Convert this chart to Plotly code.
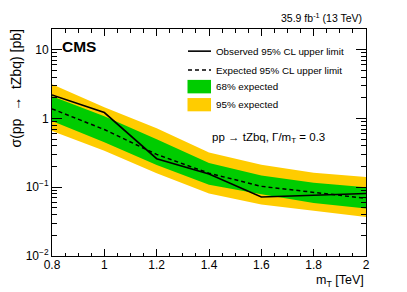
import plotly.graph_objects as go
import math

mass = [0.8, 1.0, 1.2, 1.4, 1.6, 1.8, 2.0]
observed = [2.2, 1.22, 0.26, 0.156, 0.072, 0.077, 0.081]
expected = [1.38, 0.69, 0.30, 0.16, 0.103, 0.085, 0.069]
band68_hi = [2.10, 1.08, 0.50, 0.225, 0.148, 0.116, 0.100]
band68_lo = [0.92, 0.45, 0.21, 0.109, 0.079, 0.059, 0.049]
band95_hi = [3.15, 1.45, 0.72, 0.32, 0.213, 0.162, 0.141]
band95_lo = [0.66, 0.34, 0.16, 0.081, 0.056, 0.045, 0.037]

y_tickvals = [0.01, 0.1, 1, 10]
y_ticktext = ["10<sup>−2</sup>", "10<sup>−1</sup>", "1", "10"]
x_tickvals = [0.8, 1.0, 1.2, 1.4, 1.6, 1.8, 2.0]
x_ticktext = ["0.8", "1", "1.2", "1.4", "1.6", "1.8", "2"]

GREEN = "#00CC00"
YELLOW = "#FFCC00"
FONT = "Liberation Sans, Arial, Helvetica, sans-serif"

OFF = 8  # browser body margin
W, H = 407 - OFF, 292 - OFF
# plot area in screen pixels
SL, SR, ST, SB = 52, 366, 28.5, 256
L, R, T, B = SL - OFF, SR - OFF, ST - OFF, SB - OFF

def px(x):
    return (x - SL) / (SR - SL)

def py(y):
    return (SB - y) / (SB - ST)

fig = go.Figure()
fig.add_trace(go.Scatter(x=mass, y=band95_hi, mode="lines", line=dict(width=0, color=YELLOW),
                         showlegend=False, hoverinfo="skip"))
fig.add_trace(go.Scatter(x=mass, y=band95_lo, mode="lines", line=dict(width=0, color=YELLOW),
                         fill="tonexty", fillcolor=YELLOW, showlegend=False, hoverinfo="skip"))
fig.add_trace(go.Scatter(x=mass, y=band68_hi, mode="lines", line=dict(width=0, color=GREEN),
                         showlegend=False, hoverinfo="skip"))
fig.add_trace(go.Scatter(x=mass, y=band68_lo, mode="lines", line=dict(width=0, color=GREEN),
                         fill="tonexty", fillcolor=GREEN, showlegend=False, hoverinfo="skip"))
fig.add_trace(go.Scatter(x=mass, y=expected, mode="lines", line=dict(color="black", width=1.5, dash="4px,3px"),
                         showlegend=False))
fig.add_trace(go.Scatter(x=mass, y=observed, mode="lines", line=dict(color="black", width=1.6),
                         showlegend=False))
# invisible trace for mirrored (top/right) axes
fig.add_trace(go.Scatter(x=[mass[0]], y=[expected[0]], mode="markers", marker=dict(opacity=0),
                         xaxis="x2", yaxis="y2", showlegend=False, hoverinfo="skip"))

minor_y = [m * 10 ** e for e in range(-2, 2) for m in range(2, 10)]
minor_y = [v for v in minor_y if v < 20]
minor_x = [round(0.8 + 0.05 * i, 3) for i in range(25)]

tickfont = dict(size=12, color="black", family=FONT)
xr = [0.8, 2.0]
yr = [-2, math.log10(20)]

xcommon = dict(range=xr, tickmode="array", tickvals=x_tickvals, ticktext=x_ticktext,
               ticks="inside", ticklen=7, tickwidth=1, tickcolor="black",
               minor=dict(tickmode="array", tickvals=minor_x, ticklen=3.5, tickcolor="black", ticks="inside"),
               showline=True, linecolor="black", linewidth=1, showgrid=False, zeroline=False, tickfont=tickfont)
ycommon = dict(type="log", range=yr, tickmode="array", tickvals=y_tickvals, ticktext=y_ticktext,
               ticks="inside", ticklen=10, tickwidth=1, tickcolor="black",
               minor=dict(tickmode="array", tickvals=minor_y, ticklen=5, tickcolor="black", ticks="inside"),
               showline=True, linecolor="black", linewidth=1, showgrid=False, zeroline=False, tickfont=tickfont)

fig.update_layout(
    xaxis=dict(**xcommon, ticklabelstandoff=-2),
    yaxis=dict(**ycommon),
    xaxis2=dict(**xcommon, overlaying="x", side="top", showticklabels=False, anchor="y2"),
    yaxis2=dict(**ycommon, overlaying="y", side="right", showticklabels=False, anchor="x2"),
)

ann = []
ann.append(dict(x=px(16), y=py(27), xref="paper", yref="paper",
                text="σ(pp\u00a0\u00a0\u2192\u00a0\u00a0tZbq)\u00a0[pb]", textangle=-90,
                xanchor="center", yanchor="top", showarrow=False, font=dict(size=14, family=FONT, color="black")))
ann.append(dict(x=px(366), y=py(281), xref="paper", yref="paper", text="m<sub>T</sub> [TeV]",
                xanchor="right", yanchor="middle", showarrow=False, font=dict(size=12.5, family=FONT, color="black")))
ann.append(dict(x=px(364), y=py(25), xref="paper", yref="paper", text="35.9 fb<sup>-1</sup> (13 TeV)",
                xanchor="right", yanchor="bottom", showarrow=False, font=dict(size=10.5, family=FONT, color="black")))
ann.append(dict(x=px(60), y=py(46), xref="paper", yref="paper", text="<b>CMS</b>",
                xanchor="left", yanchor="middle", showarrow=False, font=dict(size=15.5, family=FONT, color="black")))
ann.append(dict(x=px(210), y=py(138), xref="paper", yref="paper", text="pp → tZbq, Γ/m<sub>T</sub> = 0.3",
                xanchor="left", yanchor="middle", showarrow=False, font=dict(size=11.5, family=FONT, color="black")))

leg_rows = [(50.7, "Observed 95% CL upper limit"), (69.7, "Expected 95% CL upper limit"),
            (86.2, "68% expected"), (104.5, "95% expected")]
for yy, txt in leg_rows:
    ann.append(dict(x=px(214), y=py(yy), xref="paper", yref="paper", text=txt,
                    xanchor="left", yanchor="middle", showarrow=False, font=dict(size=9.8, family=FONT, color="black")))

shapes = []
shapes.append(dict(type="line", xref="paper", yref="paper", x0=px(188), x1=px(211), y0=py(50.7), y1=py(50.7),
                   line=dict(color="black", width=1.6)))
shapes.append(dict(type="line", xref="paper", yref="paper", x0=px(188), x1=px(211), y0=py(69.7), y1=py(69.7),
                   line=dict(color="black", width=1.5, dash="4px,3px")))
shapes.append(dict(type="rect", xref="paper", yref="paper", x0=px(187.5), x1=px(211), y0=py(79.5), y1=py(93),
                   fillcolor=GREEN, line=dict(width=0)))
shapes.append(dict(type="rect", xref="paper", yref="paper", x0=px(187.5), x1=px(211), y0=py(97.7), y1=py(111),
                   fillcolor=YELLOW, line=dict(width=0)))

fig.update_layout(width=W, height=H, margin=dict(l=L, r=W - R, t=T, b=H - B, pad=0, autoexpand=False),
                  plot_bgcolor="white", paper_bgcolor="white", showlegend=False,
                  annotations=ann, shapes=shapes, font=dict(family=FONT, color="black"))

fig.write_html("out.html")
